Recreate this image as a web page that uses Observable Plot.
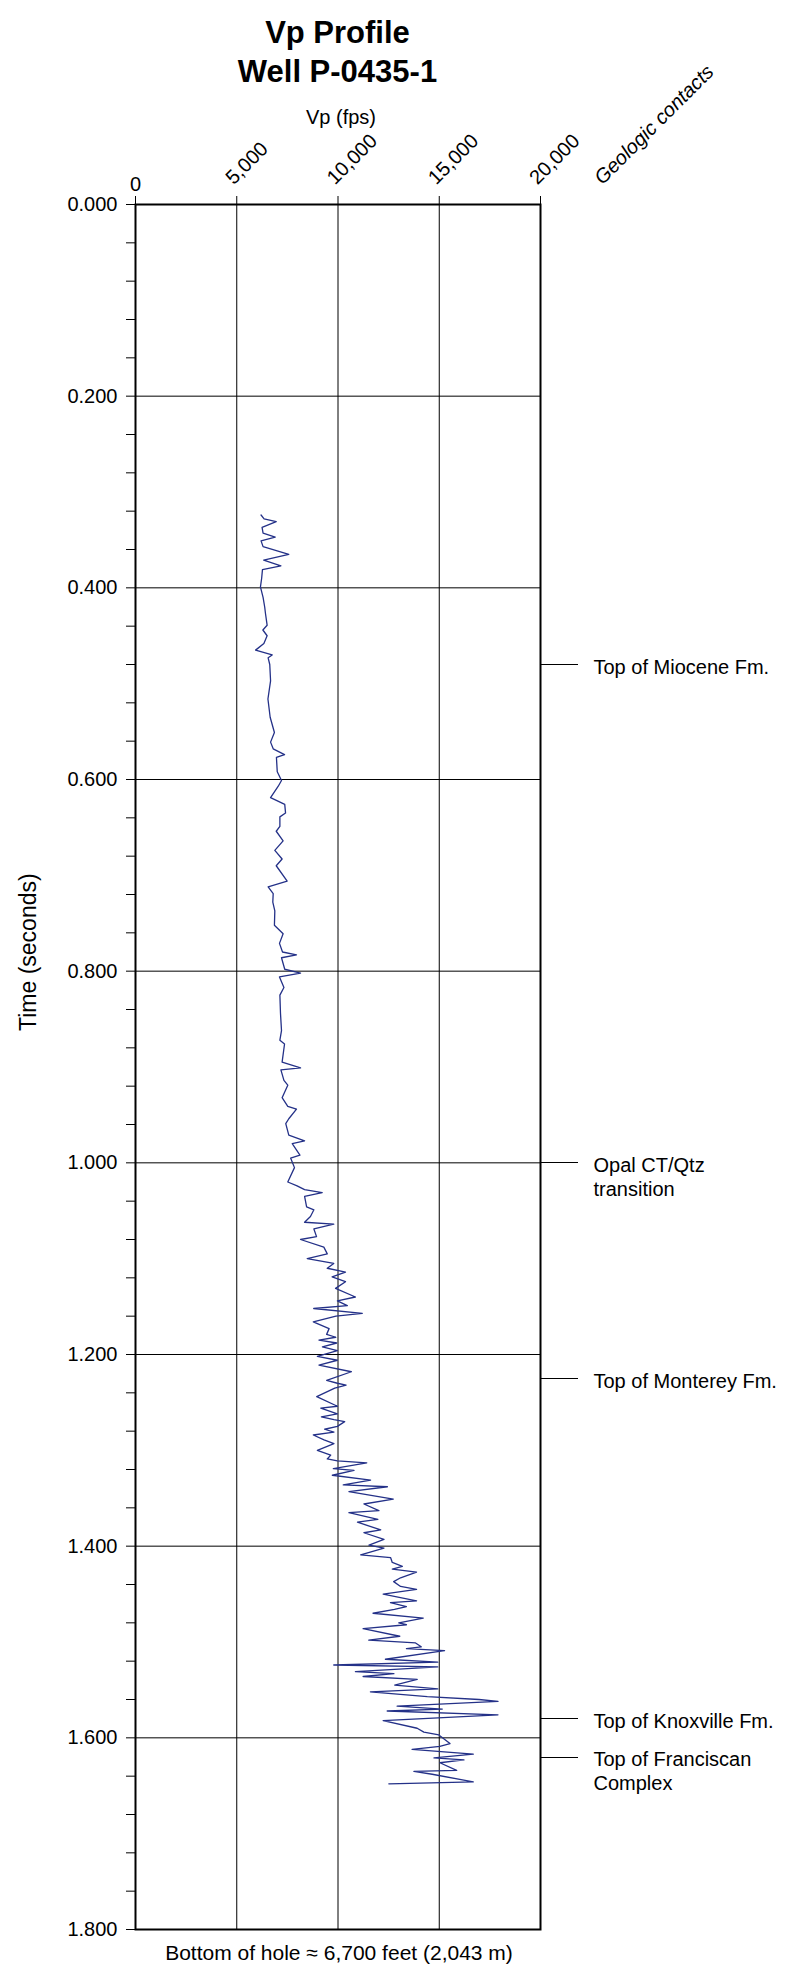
<!DOCTYPE html>
<html>
<head>
<meta charset="utf-8">
<script src="https://cdn.jsdelivr.net/npm/d3@7"></script>
<script src="https://cdn.jsdelivr.net/npm/@observablehq/plot@0.6"></script>
<style>
  body { margin: 0; background: #fff; color: #000; font-family: "Liberation Sans", Arial, sans-serif; }
  #title { width: 675px; height: 78px; padding-top: 13px; text-align: center; font-weight: bold; font-size: 31px; line-height: 39px; }
  #caption { width: 678px; text-align: center; font-size: 21px; line-height: 24px; }
  svg { display: block; overflow: visible; }
</style>
</head>
<body>
<div id="title">Vp Profile<br>Well P-0435-1</div>
<div id="chart"></div>
<div id="caption">Bottom of hole ≈ 6,700 feet (2,043 m)</div>
<script>
// Two-way travel time (s) and interval P-wave velocity (ft/s) down the well
const timeSec = [
  0.324,0.328,0.331,0.337,0.343,0.347,0.351,0.357,0.365,0.371,
  0.377,0.381,0.390,0.399,0.410,0.420,0.427,0.439,0.444,0.450,
  0.458,0.465,0.470,0.473,0.480,0.497,0.516,0.535,0.551,0.561,
  0.568,0.574,0.577,0.592,0.601,0.607,0.619,0.626,0.635,0.639,
  0.649,0.654,0.664,0.674,0.683,0.690,0.706,0.712,0.719,0.728,
  0.737,0.752,0.761,0.771,0.780,0.783,0.786,0.798,0.802,0.806,
  0.817,0.825,0.844,0.862,0.872,0.876,0.895,0.901,0.903,0.914,
  0.919,0.932,0.941,0.944,0.954,0.959,0.971,0.977,0.980,0.992,
  0.995,1.005,1.020,1.024,1.028,1.031,1.035,1.046,1.049,1.056,
  1.062,1.064,1.069,1.077,1.080,1.088,1.095,1.100,1.105,1.110,
  1.114,1.119,1.124,1.131,1.140,1.144,1.149,1.152,1.157,1.160,
  1.166,1.173,1.179,1.182,1.185,1.188,1.192,1.196,1.202,1.206,
  1.211,1.218,1.227,1.230,1.232,1.235,1.244,1.254,1.256,1.262,
  1.265,1.268,1.270,1.275,1.278,1.281,1.284,1.289,1.293,1.300,
  1.305,1.309,1.311,1.313,1.319,1.321,1.326,1.331,1.336,1.338,
  1.343,1.351,1.356,1.363,1.365,1.372,1.375,1.383,1.386,1.393,
  1.399,1.402,1.409,1.412,1.417,1.421,1.424,1.427,1.433,1.437,
  1.442,1.445,1.450,1.457,1.459,1.463,1.466,1.470,1.475,1.480,
  1.482,1.486,1.494,1.498,1.501,1.505,1.507,1.509,1.518,1.521,
  1.524,1.526,1.531,1.533,1.536,1.539,1.545,1.549,1.552,1.557,
  1.560,1.562,1.567,1.570,1.572,1.576,1.582,1.590,1.594,1.597,
  1.606,1.609,1.612,1.617,1.621,1.623,1.626,1.634,1.635,1.638,
  1.646,1.648
];
const vpFps = [
  6200,6350,6950,6250,6300,6900,6200,6300,7570,6330,
  7180,6270,6230,6170,6300,6380,6420,6500,6290,6500,
  6340,5930,6750,6550,6630,6670,6540,6650,6860,6670,
  6800,7360,6960,7000,7210,7050,6670,7370,7410,7130,
  7130,6950,7290,6880,7240,6950,7490,6550,6800,6780,
  6880,6860,7290,7110,7260,7950,7210,7370,8150,7110,
  7330,7130,7160,7210,7130,7360,7240,8150,7180,7330,
  7520,7240,7520,7950,7570,7420,7570,8350,7740,8120,
  7660,7850,7520,7980,8350,9220,8350,8450,8810,8640,
  8350,9790,8810,8940,8150,9300,9470,8480,9790,9470,
  10370,9710,10370,9880,10860,9970,10460,8800,11200,9900,
  8780,9560,9440,9890,9060,9940,9230,9970,8980,9970,
  9060,10660,9440,9970,10400,9840,8950,9970,9150,9970,
  9180,9800,10330,9970,9340,9800,8780,9310,9800,8980,
  9640,9470,9970,11420,9770,10790,9720,11610,10260,12440,
  10540,12730,11280,12020,10540,11970,10960,12110,11280,12270,
  11530,12270,11120,12600,12680,13180,12680,13880,13090,12750,
  13090,13880,12230,13880,12590,13380,12790,11730,14210,13000,
  13380,11240,13050,11520,13830,14110,13380,15260,12340,14930,
  9790,14930,10860,12760,11240,13910,12800,14930,11600,14410,
  16960,17900,12920,15150,12430,17900,12230,13910,14240,14980,
  15530,15030,13660,16680,14740,16220,15030,15860,13750,14650,
  16680,12510
];

// Geologic contacts picked on the time axis
const contactTime = [0.48, 1.0, 1.225, 1.58, 1.62];
const contactLabel = [
  "Top of Miocene Fm.",
  "Opal CT/Qtz\ntransition",
  "Top of Monterey Fm.",
  "Top of Knoxville Fm.",
  "Top of Franciscan\nComplex"
];

// Axis ticks
const timeTicks = [0, 0.2, 0.4, 0.6, 0.8, 1.0, 1.2, 1.4, 1.6, 1.8];
const vpTicks = [0, 5000, 10000, 15000, 20000];

const profile = timeSec.map((t, i) => ({t, vp: vpFps[i]}));
const contacts = contactTime.map((t, i) => ({t, label: contactLabel[i]}));

// minor ticks: five intervals within each labelled time step
const minorTicks = [];
for (let i = 0; i < timeTicks.length - 1; i++) {
  const a = timeTicks[i], b = timeTicks[i + 1];
  for (let k = 0; k < 5; k++) minorTicks.push(+(a + (b - a) * k / 5).toFixed(3));
}
minorTicks.push(timeTicks[timeTicks.length - 1]);
const isMajor = (d) => timeTicks.some((m) => Math.abs(m - d) < 1e-9);

// short leader lines from the right edge of the frame to each contact label
function leaders(index, scales, values, dimensions) {
  const g = d3.create("svg:g").attr("stroke", "black").attr("stroke-width", 1);
  const x0 = dimensions.width - dimensions.marginRight;
  for (const c of contacts) {
    const y = Math.round(scales.y(c.t)) + 0.5;
    g.append("line").attr("x1", x0).attr("x2", x0 + 38).attr("y1", y).attr("y2", y);
  }
  return g.node();
}

const font = "Liberation Sans, Arial, sans-serif";

const chart = Plot.plot({
  width: 808,
  height: 1850,
  marginTop: 113,
  marginBottom: 12,
  marginLeft: 135,
  marginRight: 268,
  style: {fontFamily: font, fontSize: "20px", color: "black", background: "white", overflow: "visible"},
  x: {domain: [0, 20000], axis: null},
  y: {domain: [0, 1.8], reverse: true, axis: null},
  marks: [
    Plot.ruleY(timeTicks.slice(1, -1), {stroke: "black", strokeWidth: 1}),
    Plot.ruleX(vpTicks.slice(1, -1), {stroke: "black", strokeWidth: 1}),
    Plot.line(profile, {x: "vp", y: "t", stroke: "#243188", strokeWidth: 1.3}),
    Plot.frame({stroke: "black", strokeWidth: 2}),
    Plot.axisY({
      ticks: minorTicks, tickSize: 9, tickPadding: 9, label: null,
      tickFormat: (d) => (isMajor(d) ? d3.format(".3f")(d) : ""),
      fontSize: 20
    }),
    Plot.axisX({anchor: "top", ticks: vpTicks, tickSize: 9, tickFormat: () => "", label: null}),
    Plot.text([vpTicks[0]], {
      x: (d) => d, frameAnchor: "top", lineAnchor: "bottom", dy: -14,
      text: (d) => String(d), fontSize: 20
    }),
    Plot.text(vpTicks.slice(1), {
      x: (d) => d, frameAnchor: "top", rotate: -45, textAnchor: "start", lineAnchor: "bottom",
      dx: -3, dy: -19, text: (d) => d3.format(",")(d), fontSize: 20
    }),
    Plot.text(["Vp (fps)"], {frameAnchor: "top", lineAnchor: "bottom", dx: 3, dy: -81, fontSize: 20}),
    Plot.text(["Geologic contacts"], {
      frameAnchor: "top-right", rotate: -45, textAnchor: "start", lineAnchor: "bottom",
      dx: 62, dy: -19, fontSize: 20, fontStyle: "italic"
    }),
    Plot.text(["Time (seconds)"], {frameAnchor: "left", rotate: -90, dx: -107, dy: -36, fontSize: 23}),
    leaders,
    Plot.text(contacts, {
      y: "t", text: "label", frameAnchor: "right", textAnchor: "start", lineAnchor: "top",
      dx: 53, dy: -8, lineHeight: 1.2, fontSize: 20
    })
  ]
});

document.getElementById("chart").append(chart);
</script>
</body>
</html>
